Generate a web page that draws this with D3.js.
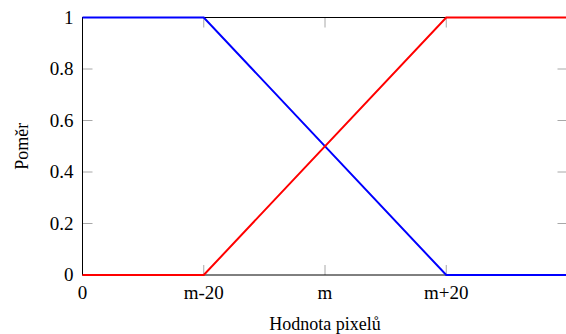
<!DOCTYPE html>
<html>
<head>
<meta charset="utf-8">
<script src="https://cdn.jsdelivr.net/npm/d3@7"></script>
<style>
  body { margin: 0; background: #fff; }
</style>
</head>
<body>
<svg id="chart" width="566" height="334"></svg>
<script>
// x positions are in abstract units: 0, m-20, m, m+20, m+40
const xTicks = [0, 1, 2, 3];
const xTickLabels = ['0', 'm-20', 'm', 'm+20'];
const yTicks = [0, 0.2, 0.4, 0.6, 0.8, 1];

const xValues = [0, 1, 3, 4];
const blueValues = [1, 1, 0, 0];
const redValues = [0, 0, 1, 1];

const margin = { top: 17.5, right: -1.5, bottom: 59, left: 82.5 };
const width = 566;
const height = 334;
const serif = "'Liberation Serif', 'Times New Roman', 'DejaVu Serif', serif";

const svg = d3.select('#chart');

const x = d3.scaleLinear()
  .domain([0, 4])
  .range([margin.left, width - margin.right]);

const y = d3.scaleLinear()
  .domain([0, 1])
  .range([height - margin.bottom, margin.top]);

const tickLen = 10;
const tickColor = '#a8a8a8';

// tick marks (pointing inward, on all four sides)
const ticks = svg.append('g').attr('class', 'ticks')
  .attr('stroke', tickColor).attr('stroke-width', 1);

xTicks.forEach((t) => {
  ticks.append('line')
    .attr('x1', x(t)).attr('x2', x(t))
    .attr('y1', y(0)).attr('y2', y(0) - tickLen);
  ticks.append('line')
    .attr('x1', x(t)).attr('x2', x(t))
    .attr('y1', y(1)).attr('y2', y(1) + tickLen);
});

yTicks.forEach((t) => {
  ticks.append('line')
    .attr('x1', x(0)).attr('x2', x(0) + tickLen)
    .attr('y1', y(t)).attr('y2', y(t));
  ticks.append('line')
    .attr('x1', x(4)).attr('x2', x(4) - tickLen)
    .attr('y1', y(t)).attr('y2', y(t));
});

// frame
svg.append('rect')
  .attr('x', x(0)).attr('y', y(1))
  .attr('width', x(4) - x(0))
  .attr('height', y(0) - y(1))
  .attr('fill', 'none')
  .attr('stroke', '#000')
  .attr('stroke-width', 1);

// tick labels
svg.append('g').selectAll('text')
  .data(xTicks)
  .join('text')
  .attr('x', (d) => x(d))
  .attr('y', y(0) + 24)
  .attr('text-anchor', 'middle')
  .attr('font-family', serif)
  .attr('font-size', 19)
  .text((d, i) => xTickLabels[i]);

svg.append('g').selectAll('text')
  .data(yTicks)
  .join('text')
  .attr('x', x(0) - 9)
  .attr('y', (d) => y(d) + 6)
  .attr('text-anchor', 'end')
  .attr('font-family', serif)
  .attr('font-size', 19)
  .text((d) => d3.format('~g')(d));

// axis titles
svg.append('text')
  .attr('x', x(2))
  .attr('y', 330)
  .attr('text-anchor', 'middle')
  .attr('font-family', serif)
  .attr('font-size', 18)
  .text('Hodnota pixelů');

svg.append('text')
  .attr('transform', `translate(28,${y(0.5)}) rotate(-90)`)
  .attr('text-anchor', 'middle')
  .attr('font-family', serif)
  .attr('font-size', 18)
  .text('Poměr');

// lines
const line = d3.line()
  .x((d) => x(d[0]))
  .y((d) => y(d[1]));

svg.append('defs').append('clipPath').attr('id', 'plot-clip')
  .append('rect')
  .attr('x', x(0) - 2).attr('y', y(1) - 2)
  .attr('width', x(4) - x(0) + 4)
  .attr('height', y(0) - y(1) + 4);

const plot = svg.append('g').attr('clip-path', 'url(#plot-clip)');

plot.append('path')
  .datum(xValues.map((v, i) => [v, blueValues[i]]))
  .attr('d', line)
  .attr('fill', 'none')
  .attr('stroke', '#0000ff')
  .attr('stroke-width', 2);

plot.append('path')
  .datum(xValues.map((v, i) => [v, redValues[i]]))
  .attr('d', line)
  .attr('fill', 'none')
  .attr('stroke', '#ff0000')
  .attr('stroke-width', 2);
</script>
</body>
</html>
